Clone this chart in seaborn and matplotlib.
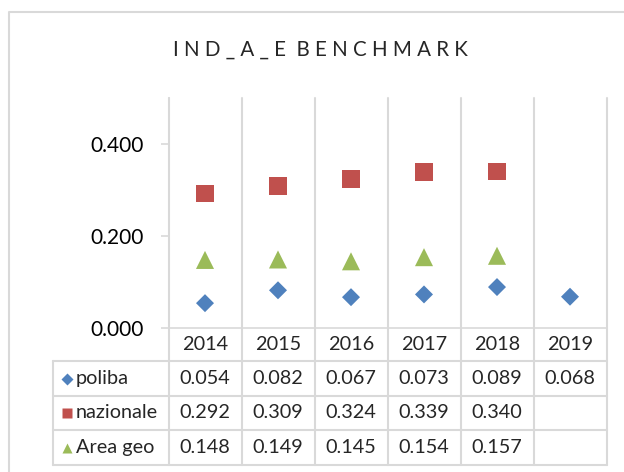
import matplotlib
matplotlib.use("Agg")
import matplotlib.pyplot as plt
import seaborn as sns
import pandas as pd
import numpy as np

# dati
anni = ["2014", "2015", "2016", "2017", "2018", "2019"]
poliba = [0.054, 0.082, 0.067, 0.073, 0.089, 0.068]
nazionale = [0.292, 0.309, 0.324, 0.339, 0.340, None]
area_geo = [0.148, 0.149, 0.145, 0.154, 0.157, None]
serie = ["poliba", "nazionale", "Area geo"]
colori = {"poliba": "#4F81BD", "nazionale": "#C0504D", "Area geo": "#9BBB59"}
marker = {"poliba": "D", "nazionale": "s", "Area geo": "^"}
dimensioni = {"poliba": 84, "nazionale": 159, "Area geo": 169}

sns.set_theme(style="white")
plt.rcParams["font.family"] = ["Lato", "DejaVu Sans"]

valori = {"poliba": poliba, "nazionale": nazionale, "Area geo": area_geo}
righe = []
for s in serie:
    for a, v in zip(anni, valori[s]):
        if v is not None:
            righe.append({"anno": a, "valore": v, "serie": s})
df = pd.DataFrame(righe)

W, H = 624, 472
fig = plt.figure(figsize=(W / 100, H / 100), dpi=100)

# livello di sfondo in pixel per cornice e tabella
bg = fig.add_axes([0, 0, 1, 1])
bg.set_xlim(0, W)
bg.set_ylim(H, 0)
bg.axis("off")
grigio = "#D9D9D9"

# cornice esterna (bordo sinistro e superiore)
bg.plot([8.5, 8.5, W], [H, 11.5, 11.5], color=grigio, lw=1.5)

# assi del grafico
x0, x1, ytop, ybot = 168.5, 606.5, 98, 328
ax = fig.add_axes([x0 / W, 1 - ybot / H, (x1 - x0) / W, (ybot - ytop) / H])
ax.patch.set_alpha(0)

sns.scatterplot(data=df, x="anno", y="valore", hue="serie", style="serie",
                size="serie", palette=colori, markers=marker, sizes=dimensioni,
                hue_order=serie, style_order=serie, size_order=serie,
                linewidth=0, legend=False, ax=ax, zorder=3)

ax.set_xlim(-0.5, len(anni) - 0.5)
ax.set_ylim(0, 0.5)
ax.set_yticks([0, 0.2, 0.4])
ax.set_yticklabels(["0.000", "0.200", "0.400"], fontsize=15)
ax.set_xticks([])
ax.set_xlabel("")
ax.set_ylabel("")
for lato in ["top", "right"]:
    ax.spines[lato].set_visible(False)
for lato in ["left", "bottom"]:
    ax.spines[lato].set_color(grigio)
    ax.spines[lato].set_linewidth(1.2)
ax.tick_params(axis="y", direction="out", length=6, width=1.2, color=grigio,
               pad=12, labelcolor="black", left=True)

# tabella dati
colonne = [x0 + i * (x1 - x0) / len(anni) for i in range(len(anni) + 1)]
righe_y = [361, 396, 430, 465]
for xc in colonne:
    bg.plot([xc, xc], [ytop, righe_y[-1]], color=grigio, lw=1.5, zorder=1)
bg.plot([53, 53], [righe_y[0], righe_y[-1]], color=grigio, lw=1.5)
for yr in righe_y:
    bg.plot([53, x1], [yr, yr], color=grigio, lw=1.5)

centri = [(colonne[i] + colonne[i + 1]) / 2 for i in range(len(anni))]
for c, a in zip(centri, anni):
    bg.text(c, 345, a, ha="center", va="center", fontsize=14.3)
for r, s in enumerate(serie):
    yc = (righe_y[r] + righe_y[r + 1]) / 2
    bg.plot([67], [yc], marker=marker[s], color=colori[s], ms=7 if s != "poliba" else 6,
            mec="none", ls="none")
    bg.text(76, yc, s, ha="left", va="center", fontsize=14.3)
    for c, v in zip(centri, valori[s]):
        if v is not None:
            bg.text(c, yc, f"{v:.3f}", ha="center", va="center", fontsize=14.3)

# titolo spaziato
fig.text(320 / W, 1 - 50 / H, " ".join("IND_A_E") + "  " + " ".join("BENCHMARK"),
         ha="center", va="center", fontsize=14.8)

fig.savefig("out.png", dpi=100)
